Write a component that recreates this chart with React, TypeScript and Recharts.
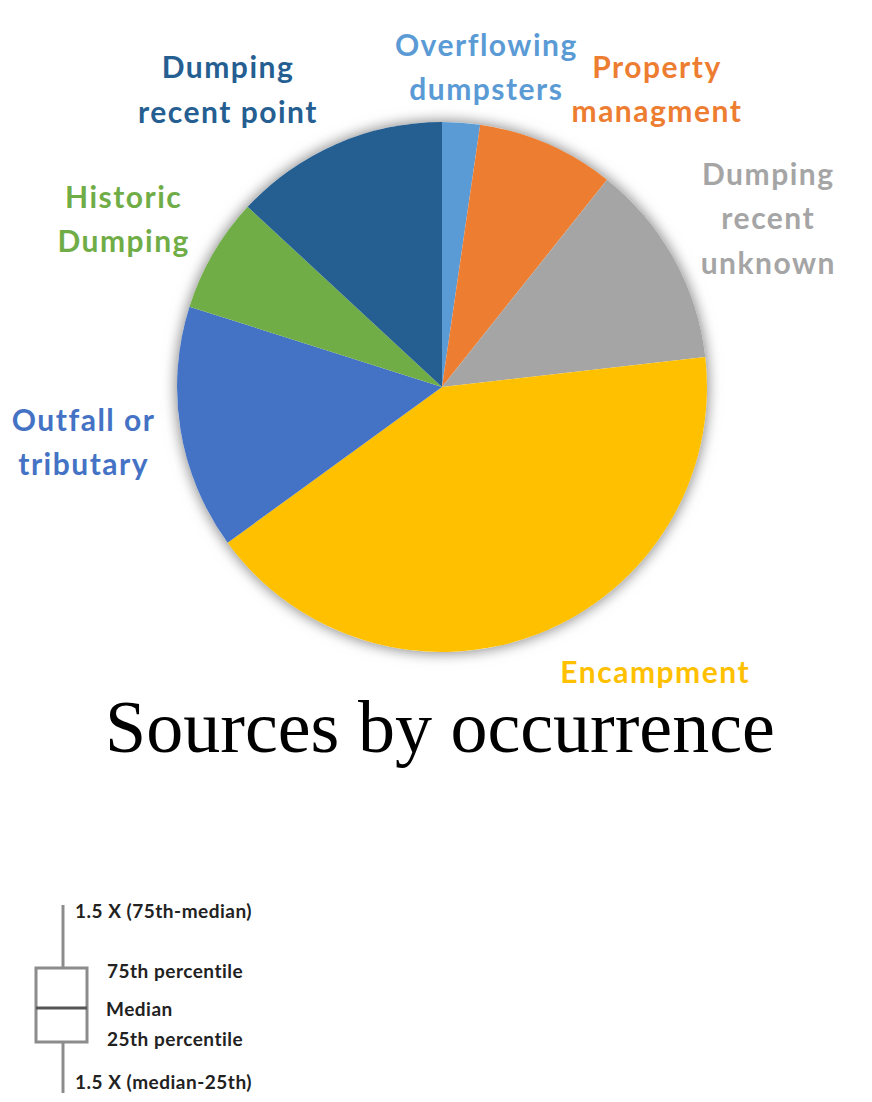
import { PieChart, Pie, Cell } from 'recharts'

// share of occurrences (%) per source, clockwise from 12 o'clock
const sources = [
  'Overflowing dumpsters',
  'Property managment',
  'Dumping recent unknown',
  'Encampment',
  'Outfall or tributary',
  'Historic Dumping',
  'Dumping recent point',
]
const shares = [2.3, 8.4, 12.5, 41.8, 14.9, 7.0, 13.1]
const sliceColors = ['#5B9BD5', '#ED7D31', '#A5A5A5', '#FFC000', '#4472C4', '#70AD47', '#255E91']

// how each label is broken onto lines
const labelLines: Record<string, string[]> = {
  'Overflowing dumpsters': ['Overflowing', 'dumpsters'],
  'Property managment': ['Property', 'managment'],
  'Dumping recent unknown': ['Dumping', 'recent', 'unknown'],
  Encampment: ['Encampment'],
  'Outfall or tributary': ['Outfall or', 'tributary'],
  'Historic Dumping': ['Historic', 'Dumping'],
  'Dumping recent point': ['Dumping', 'recent point'],
}

// small hand nudges like the ones Excel applied to the data labels
const labelNudge: Record<string, [number, number]> = {
  'Overflowing dumpsters': [18, 43],
  'Property managment': [70, 36],
  'Dumping recent unknown': [7, 7],
  Encampment: [81, -56],
  'Outfall or tributary': [2, -4],
  'Historic Dumping': [-3, 15],
  'Dumping recent point': [-68, 36],
}

const boxLegend = [
  { text: '1.5 X (75th-median)', x: 67, y: 902 },
  { text: '75th percentile', x: 99, y: 962 },
  { text: 'Median', x: 98, y: 1000 },
  { text: '25th percentile', x: 99, y: 1030 },
  { text: '1.5 X (median-25th)', x: 67, y: 1073 },
]

const data = sources.map((name, i) => ({ name, value: shares[i] }))
const total = [{ name: 'all', value: shares.reduce((a, b) => a + b, 0) }]

const RAD = Math.PI / 180
const LABEL_FONT = 'Lato, "Open Sans", sans-serif'

// eslint-disable-next-line @typescript-eslint/no-explicit-any
const renderLabel = (props: any) => {
  const { cx, cy, midAngle, outerRadius, name, index } = props
  const r = outerRadius + 100
  const [dx, dy] = labelNudge[name] ?? [0, 0]
  const x = cx + r * Math.cos(-midAngle * RAD) + dx
  const y = cy + r * Math.sin(-midAngle * RAD) + dy
  const lines = labelLines[name] ?? [name]
  const lh = 44.5
  const y0 = y - ((lines.length - 1) * lh) / 2
  return (
    <text
      key={name}
      x={x}
      y={y0}
      textAnchor="middle"
      dominantBaseline="central"
      fill={sliceColors[index]}
      style={{ fontFamily: LABEL_FONT, fontWeight: 700, fontSize: 30, letterSpacing: 1.5 }}
    >
      {lines.map((l, i) => (
        <tspan key={i} x={x} y={y0 + i * lh} dominantBaseline="central">
          {l}
        </tspan>
      ))}
    </text>
  )
}

export default function App() {
  return (
    <div style={{ position: 'relative', width: 856, height: 1086, background: '#fff' }}>
      <style>{`.pie-shadow { filter: drop-shadow(0 0 7px rgba(0,0,0,0.28)); }`}</style>
      <div style={{ position: 'absolute', left: 0, top: 0 }}>
        <PieChart width={856} height={700} margin={{ top: 0, right: 0, bottom: 0, left: 0 }}>
          <Pie
            data={total}
            dataKey="value"
            cx={434}
            cy={379}
            outerRadius={265}
            startAngle={90}
            endAngle={-270}
            fill="#fff"
            stroke="none"
            className="pie-shadow"
            isAnimationActive={false}
          />
          <Pie
            data={data}
            dataKey="value"
            nameKey="name"
            cx={434}
            cy={379}
            outerRadius={265}
            startAngle={90}
            endAngle={-270}
            stroke="none"
            label={renderLabel}
            labelLine={false}
            isAnimationActive={false}
          >
            {data.map((d, i) => (
              <Cell key={d.name} fill={sliceColors[i]} />
            ))}
          </Pie>
        </PieChart>
      </div>
      <svg width={856} height={1086} style={{ position: 'absolute', left: 0, top: 0, pointerEvents: 'none' }}>
        <text
          x={432}
          y={744}
          textAnchor="middle"
          style={{ fontFamily: '"Liberation Serif", "Times New Roman", serif', fontSize: 74 }}
          fill="#000"
        >
          Sources by occurrence
        </text>
        {/* box plot key */}
        <g stroke="#8c8c8c" strokeWidth={3} fill="#fff">
          <line x1={55} y1={897} x2={55} y2={960} />
          <line x1={55} y1={1034} x2={55} y2={1085} />
          <rect x={28} y={960} width={51} height={74} />
          <line x1={28} y1={1000} x2={79} y2={1000} stroke="#555" />
        </g>
        {boxLegend.map((b) => (
          <text
            key={b.text}
            x={b.x}
            y={b.y}
            dominantBaseline="central"
            fill="#222"
            style={{ fontFamily: LABEL_FONT, fontWeight: 700, fontSize: 19, letterSpacing: 0.5 }}
          >
            {b.text}
          </text>
        ))}
      </svg>
    </div>
  )
}
